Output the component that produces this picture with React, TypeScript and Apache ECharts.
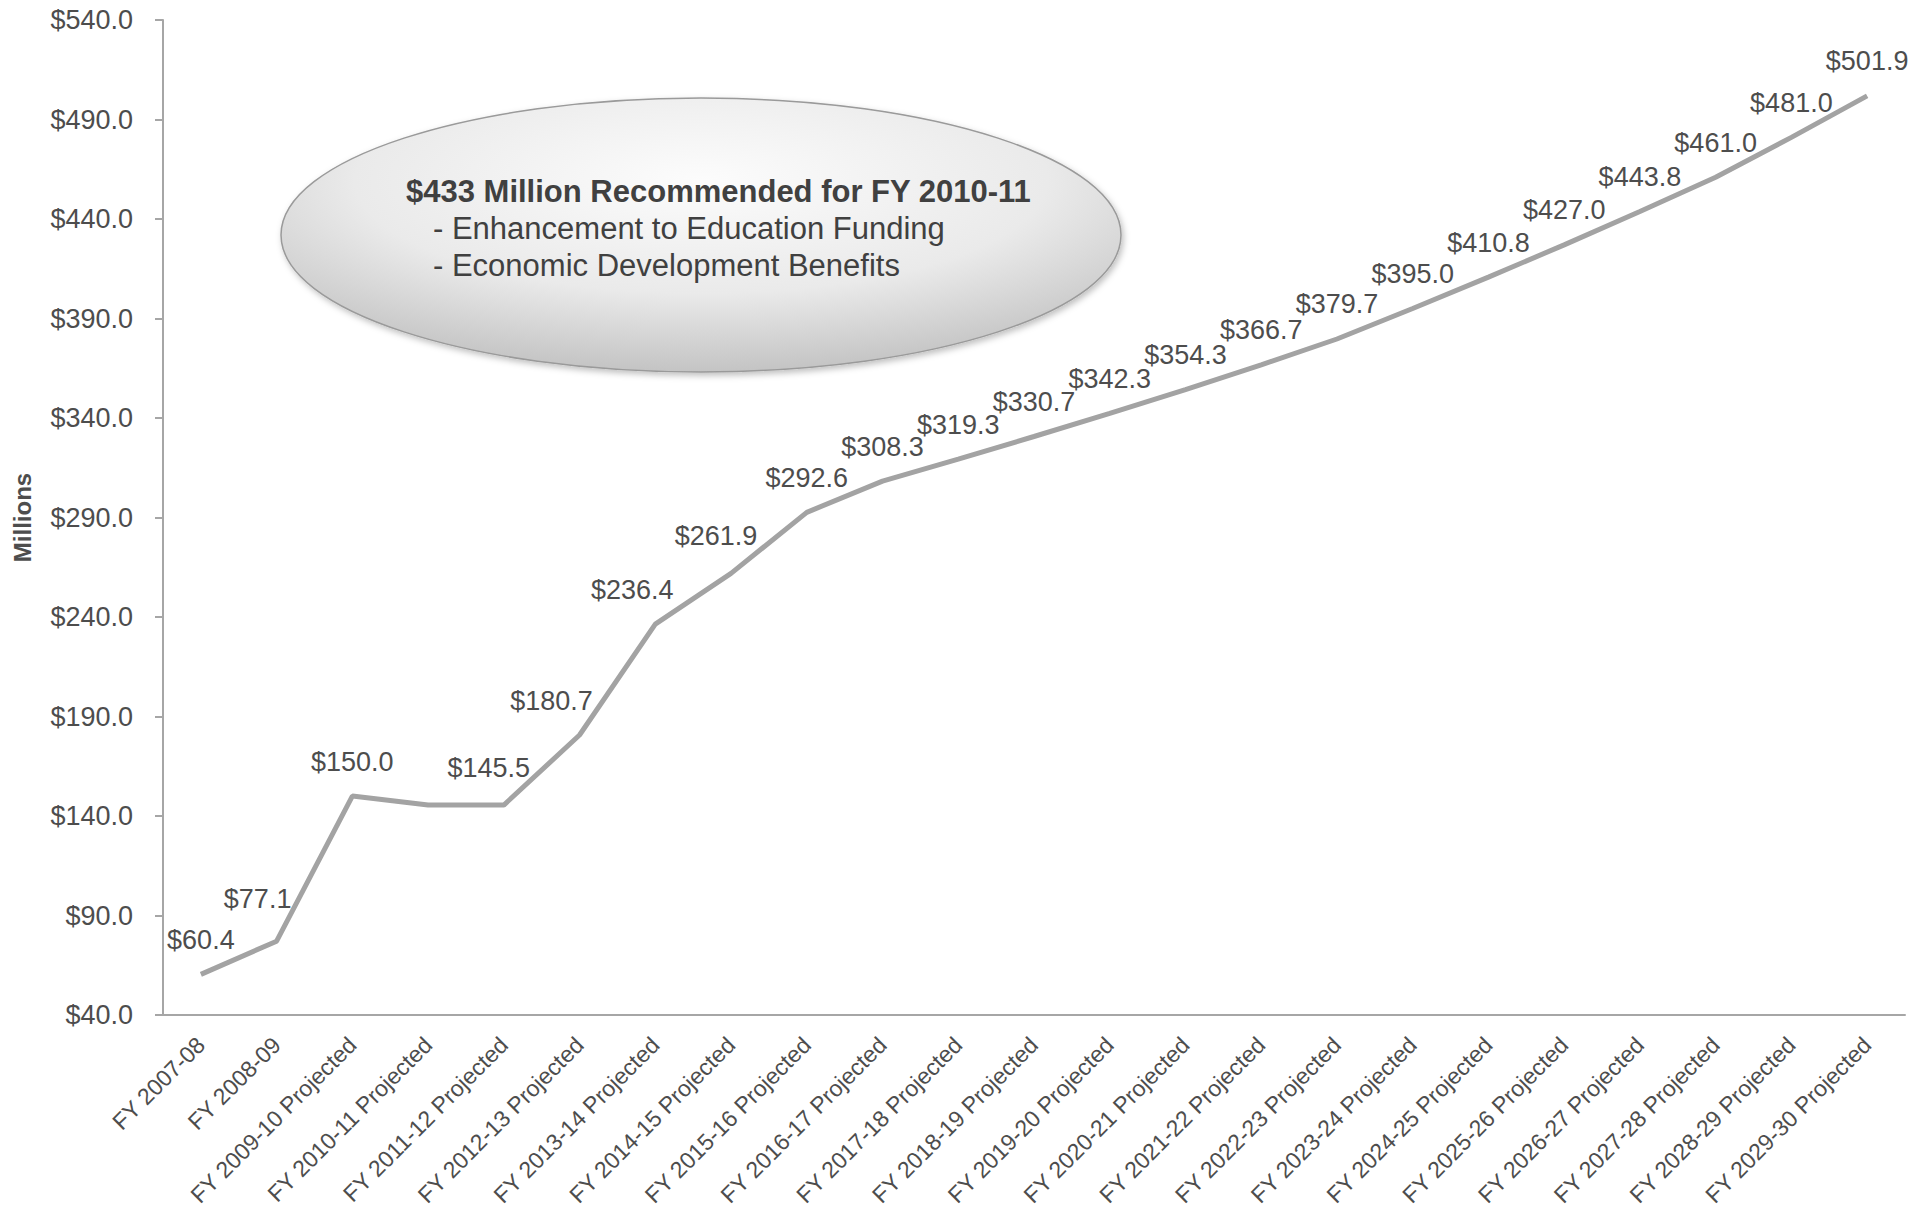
import React, { useEffect, useRef } from "react";
import * as echarts from "echarts";

const categories: string[] = [
  "FY 2007-08",
  "FY 2008-09",
  "FY 2009-10 Projected",
  "FY 2010-11 Projected",
  "FY 2011-12 Projected",
  "FY 2012-13 Projected",
  "FY 2013-14 Projected",
  "FY 2014-15 Projected",
  "FY 2015-16 Projected",
  "FY 2016-17 Projected",
  "FY 2017-18 Projected",
  "FY 2018-19 Projected",
  "FY 2019-20 Projected",
  "FY 2020-21 Projected",
  "FY 2021-22 Projected",
  "FY 2022-23 Projected",
  "FY 2023-24 Projected",
  "FY 2024-25 Projected",
  "FY 2025-26 Projected",
  "FY 2026-27 Projected",
  "FY 2027-28 Projected",
  "FY 2028-29 Projected",
  "FY 2029-30 Projected",
];

const values: number[] = [
  60.4, 77.1, 150.0, 145.5, 145.5, 180.7, 236.4, 261.9, 292.6, 308.3, 319.3,
  330.7, 342.3, 354.3, 366.7, 379.7, 395.0, 410.8, 427.0, 443.8, 461.0, 481.0,
  501.9,
];

// indices whose data label is not shown in the reference
const hiddenLabels: number[] = [3];

const yMin = 40;
const yMax = 540;
const yInterval = 50;

const annotationTitle = "$433 Million Recommended for FY 2010-11";
const annotationLines: string[] = [
  "- Enhancement to Education Funding",
  "- Economic Development Benefits",
];

const yAxisName = "Millions";

// small label nudges (style only) for labels the reference moved left
const labelNudges: Record<number, [number, number]> = {
  1: [-19, -8],
  4: [-15, -3],
  5: [-28, 0],
  6: [-23, 0],
  7: [-15, -3],
};

const FONT = "'Liberation Sans', Arial, Helvetica, sans-serif";
const TEXT = "#4d4d4d";

export default function App() {
  const ref = useRef<HTMLDivElement>(null);

  useEffect(() => {
    if (!ref.current) return;
    const chart = echarts.init(ref.current, null, { renderer: "svg" });

    const seriesData = values.map((v, i) => {
      const item: any = { value: v };
      if (hiddenLabels.includes(i)) {
        item.label = { show: false };
      } else if (labelNudges[i]) {
        item.label = { offset: labelNudges[i] };
      }
      return item;
    });

    chart.setOption({
      animation: false,
      backgroundColor: "#ffffff",
      textStyle: { fontFamily: FONT },
      grid: {
        left: 163,
        right: 26,
        top: 20,
        bottom: 198,
        containLabel: false,
        outerBoundsMode: "none",
      },
      xAxis: {
        type: "category",
        data: categories,
        boundaryGap: true,
        axisLine: { show: true, lineStyle: { color: "#a6a6a6", width: 2 } },
        axisTick: { show: false },
        axisLabel: {
          rotate: 45,
          interval: 0,
          margin: 26,
          fontSize: 23,
          color: TEXT,
          fontFamily: FONT,
        },
      },
      yAxis: {
        type: "value",
        min: yMin,
        max: yMax,
        interval: yInterval,
        name: yAxisName,
        nameLocation: "middle",
        nameRotate: 90,
        nameGap: 129,
        nameMoveOverlap: false,
        nameTextStyle: {
          fontSize: 24,
          fontWeight: "bold",
          color: TEXT,
          fontFamily: FONT,
        },
        axisLine: { show: true, lineStyle: { color: "#a6a6a6", width: 2 } },
        axisTick: {
          show: true,
          inside: false,
          length: 8,
          lineStyle: { color: "#a6a6a6", width: 2 },
        },
        splitLine: { show: false },
        axisLabel: {
          margin: 30,
          fontSize: 27,
          color: TEXT,
          fontFamily: FONT,
          formatter: (v: number) => "$" + v.toFixed(1),
        },
      },
      series: [
        {
          type: "line",
          data: seriesData,
          showSymbol: true,
          showAllSymbol: true,
          symbol: "circle",
          symbolSize: 2,
          itemStyle: { color: "rgba(0,0,0,0)", borderWidth: 0 },
          lineStyle: { color: "#a3a3a3", width: 5 },
          label: {
            show: true,
            position: "top",
            distance: 20,
            fontSize: 27,
            color: TEXT,
            fontFamily: FONT,
            formatter: (p: any) => "$" + Number(p.value).toFixed(1),
          },
        },
      ],
      graphic: [
        {
          type: "ellipse",
          z: 10,
          shape: { cx: 701, cy: 235, rx: 420, ry: 137 },
          style: {
            fill: {
              type: "radial",
              x: 0.5,
              y: 0.3,
              r: 0.75,
              colorStops: [
                { offset: 0, color: "#fcfcfc" },
                { offset: 0.55, color: "#eaeaea" },
                { offset: 1, color: "#bdbdbd" },
              ],
            },
            stroke: "#9a9a9a",
            lineWidth: 1.5,
            shadowBlur: 6,
            shadowOffsetX: 2,
            shadowOffsetY: 3,
            shadowColor: "rgba(0,0,0,0.25)",
          },
        },
        {
          type: "text",
          z: 11,
          x: 406,
          y: 191,
          style: {
            text: annotationTitle,
            fontSize: 31,
            fontWeight: "bold",
            fontFamily: FONT,
            fill: "#404040",
            verticalAlign: "middle",
          },
        },
        ...annotationLines.map((t, i) => ({
          type: "text",
          z: 11,
          x: 433,
          y: 228 + i * 37,
          style: {
            text: t,
            fontSize: 31,
            fontFamily: FONT,
            fill: "#404040",
            verticalAlign: "middle",
          },
        })),
      ],
    });

    return () => {
      chart.dispose();
    };
  }, []);

  return (
    <div
      ref={ref}
      style={{ width: 1931, height: 1213, position: "absolute", left: 0, top: 0 }}
    />
  );
}
